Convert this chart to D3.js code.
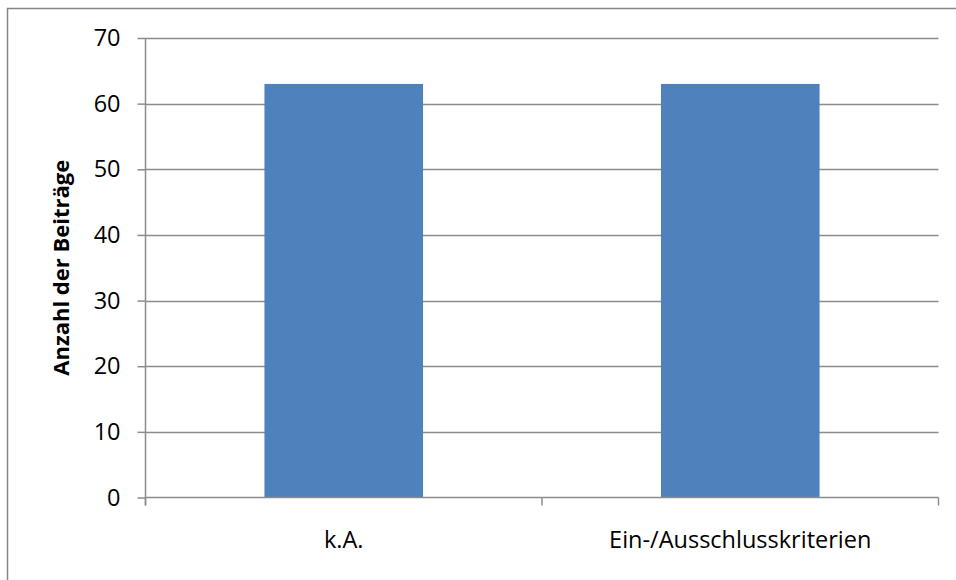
<!DOCTYPE html>
<html>
<head>
<meta charset="utf-8">
<script src="https://cdn.jsdelivr.net/npm/d3@7"></script>
<style>
  body { margin: 0; background: #fff; }
  svg { display: block; }
</style>
</head>
<body>
<svg id="chart"></svg>
<script>
/* data */
var categories = ["k.A.", "Ein-/Ausschlusskriterien"]
var values = [63, 63]
var y_ticks = [0, 10, 20, 30, 40, 50, 60, 70]
var y_title = "Anzahl der Beiträge"

/* layout */
var width = 956
var height = 580
var plot_left = 145.5
var plot_right = 938.5
var plot_top = 38
var plot_bottom = 497.5
var font_size = 23.5

var svg = d3.select("#chart")
    .attr("width", width)
    .attr("height", height)
    .style("font-family", "'Open Sans', 'Liberation Sans', sans-serif")

/* outer frame */
svg.append("rect")
    .attr("x", 7.5)
    .attr("y", 8.5)
    .attr("width", 960)
    .attr("height", 600)
    .attr("fill", "none")
    .attr("stroke", "#868686")
    .attr("stroke-width", 1.5)

var x = d3.scaleBand()
    .domain(categories)
    .range([plot_left, plot_right])
    .paddingInner(0.6)
    .paddingOuter(0.3)

var y = d3.scaleLinear()
    .domain([0, 70])
    .range([plot_bottom, plot_top])

/* gridlines */
svg.append("g")
    .selectAll("line")
    .data(y_ticks.filter(function(d) { return d > 0 }))
    .enter()
    .append("line")
    .attr("x1", plot_left)
    .attr("x2", plot_right)
    .attr("y1", function(d) { return Math.round(y(d)) + 0.5 })
    .attr("y2", function(d) { return Math.round(y(d)) + 0.5 })
    .attr("stroke", "#8c8c8c")
    .attr("stroke-width", 1.5)

/* bars */
svg.append("g")
    .selectAll("rect")
    .data(values)
    .enter()
    .append("rect")
    .attr("x", function(d, i) { return x(categories[i]) })
    .attr("y", function(d) { return y(d) })
    .attr("width", x.bandwidth())
    .attr("height", function(d) { return plot_bottom - y(d) })
    .attr("fill", "#4f81bd")

/* y axis */
var y_axis = svg.append("g")
    .attr("transform", "translate(" + plot_left + ",0)")
    .call(d3.axisLeft(y).tickValues(y_ticks).tickSize(8).tickPadding(17))
y_axis.attr("font-size", null).attr("font-family", null)
y_axis.selectAll("path, line").attr("stroke", "#8c8c8c").attr("stroke-width", 1.5)
y_axis.select(".domain").attr("d", "M0," + plot_top + "V" + (plot_bottom + 8))
y_axis.selectAll("text")
    .attr("font-size", font_size)
    .attr("fill", "#000")

/* x axis: ticks at band edges, like a category axis */
var x_axis = svg.append("g")
x_axis.append("line")
    .attr("x1", plot_left)
    .attr("x2", plot_right)
    .attr("y1", plot_bottom)
    .attr("y2", plot_bottom)
    .attr("stroke", "#8c8c8c")
    .attr("stroke-width", 1.5)
var edges = [plot_left, (plot_left + plot_right) / 2, plot_right]
x_axis.selectAll(".edge")
    .data(edges)
    .enter()
    .append("line")
    .attr("class", "edge")
    .attr("x1", function(d) { return d })
    .attr("x2", function(d) { return d })
    .attr("y1", plot_bottom)
    .attr("y2", plot_bottom + 8)
    .attr("stroke", "#8c8c8c")
    .attr("stroke-width", 1.5)
x_axis.selectAll("text")
    .data(categories)
    .enter()
    .append("text")
    .attr("x", function(d) { return x(d) + x.bandwidth() / 2 })
    .attr("y", 548)
    .attr("text-anchor", "middle")
    .attr("font-size", font_size)
    .attr("fill", "#000")
    .text(function(d) { return d })

/* y title */
svg.append("text")
    .attr("transform", "translate(69," + ((plot_top + plot_bottom) / 2) + ") rotate(-90)")
    .attr("text-anchor", "middle")
    .attr("font-size", 22)
    .attr("font-weight", "bold")
    .attr("fill", "#000")
    .text(y_title)
</script>
</body>
</html>
